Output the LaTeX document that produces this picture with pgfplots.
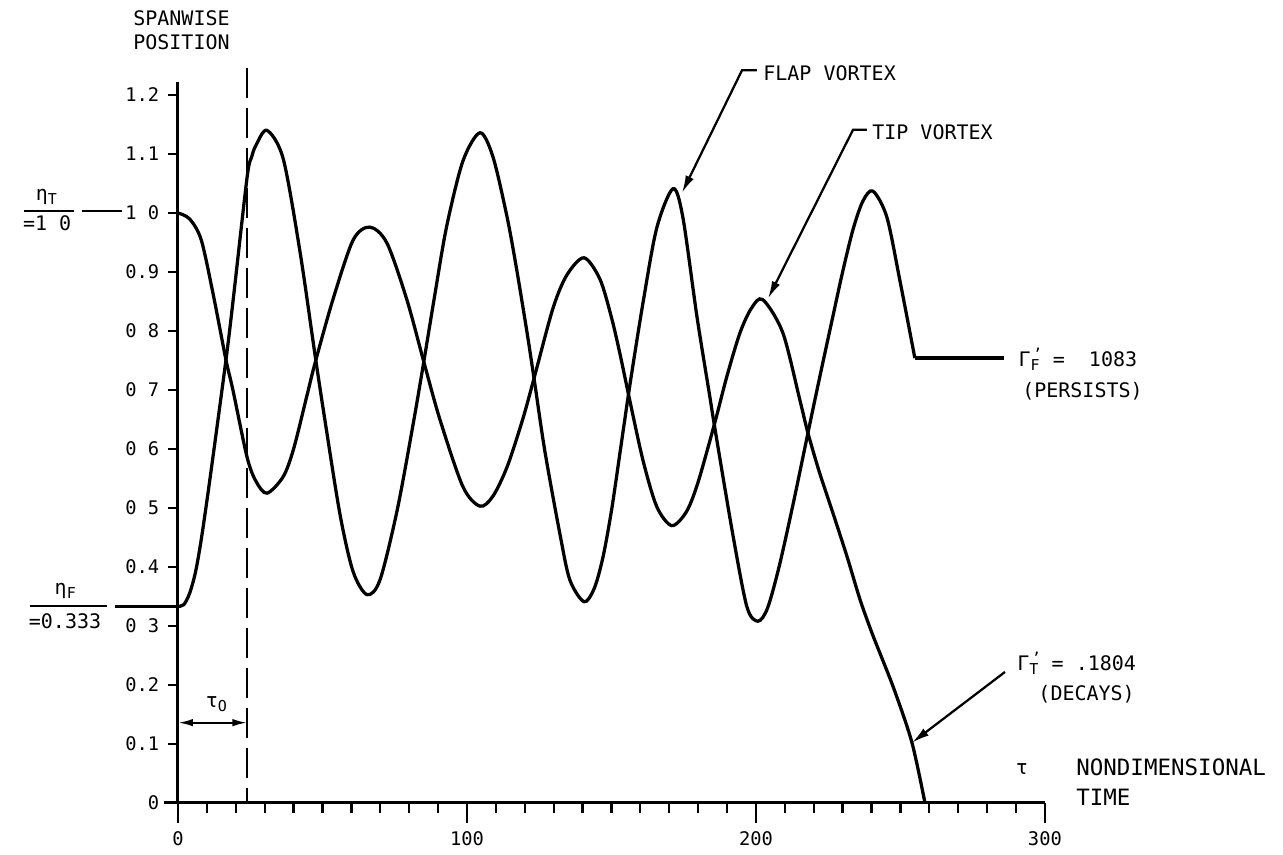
\documentclass[border=0pt]{standalone}
\usepackage{fontspec}
\setmainfont{DejaVu Sans Mono}
\usepackage{pgfplots}
\usepackage{pgfplotstable}
\pgfplotsset{compat=1.18}
\usetikzlibrary{arrows.meta}

% tip vortex, starts at eta_T = 1.0
\pgfplotstableread{
t y
0 1.000
4 0.990
8 0.955
12.1 0.864
16.6 0.751
19 0.700
23.9 0.586
27 0.545
30.8 0.525
36.4 0.553
40 0.600
44.6 0.690
47.4 0.745
53.6 0.853
60.6 0.954
66.4 0.976
72.3 0.949
79.2 0.853
85.1 0.747
90.7 0.649
98.6 0.536
104.5 0.503
109 0.520
114 0.571
119.4 0.652
123.5 0.725
129.8 0.839
134.6 0.895
140.5 0.924
146 0.888
150 0.823
153 0.760
156.4 0.681
161 0.579
165.7 0.502
170.9 0.470
176 0.494
180 0.544
185.8 0.645
190 0.724
194.5 0.797
198.5 0.839
202.4 0.853
209.3 0.797
215.2 0.683
218 0.627
222 0.560
226.6 0.492
231.5 0.418
236 0.345
240 0.290
242.9 0.254
248 0.190
254 0.102
258.5 0
}\tipvortex

% flap vortex, starts at eta_F = 0.333
\pgfplotstableread{
t y
0 0.333
2 0.336
4 0.355
6 0.390
8 0.445
11 0.547
16.6 0.751
19.1 0.853
23.9 1.060
25.5 1.095
27 1.115
30.8 1.140
36.4 1.092
42.2 0.935
47.4 0.760
50.9 0.647
56.1 0.488
60.6 0.392
65.4 0.353
69.9 0.378
75.8 0.495
81.3 0.640
85.1 0.749
89 0.865
93 0.978
98.6 1.088
104.5 1.136
109 1.095
113.8 0.995
117 0.910
120.8 0.797
123.5 0.710
127 0.595
132.2 0.455
135.6 0.378
140.5 0.341
144 0.363
147 0.415
150 0.495
153 0.595
156.4 0.709
161 0.850
165.7 0.975
171.3 1.041
174.7 0.993
179.6 0.824
184 0.690
185.8 0.635
192 0.455
196.9 0.332
200.7 0.308
204 0.330
208 0.400
212.8 0.505
218 0.627
222 0.720
226.6 0.824
230 0.900
233.6 0.972
237 1.020
240.5 1.037
245.3 0.993
249.8 0.886
255 0.754
}\flapvortex

\pgfplotstableread{
t y
255 0.754
286 0.754
}\flaptail

\begin{document}
\begin{tikzpicture}[font=\fontsize{8}{9.6}\selectfont]
\begin{axis}[x=1.156pt, y=236pt, xmin=0, xmax=300, ymin=0, ymax=1.222,
  axis x line*=bottom, axis y line*=left,
  axis line style={line width=1.2pt},
  clip=false, tick align=outside,
  major tick length=8pt, minor tick length=4pt,
  tick style={black, line width=0.9pt},
  xtick={0,100,200,300}, xticklabels={0,100,200,300}, minor x tick num=9,
  ytick=\empty,
  extra y ticks={0,0.1,0.2,0.3,0.4,0.5,0.6,0.7,0.8,0.9,1.0,1.1,1.2},
  extra y tick labels={0,0.1,0.2,0 3,0.4,0 5,0 6,0 7,0 8,0.9,1 0,1.1,1.2},
  extra y tick style={major tick length=4pt},
  tick label style={font=\fontsize{7.5}{9}\selectfont}]

\addplot[black, line width=1.3pt, smooth, tension=0.5] table {\tipvortex};
\addplot[black, line width=1.3pt, smooth, tension=0.5] table {\flapvortex};
\addplot[black, line width=1.3pt] table {\flaptail};

\draw[line width=1.2pt] (axis cs:-5,0) -- (axis cs:0,0);
\draw[line width=0.8pt, dash pattern=on 12pt off 4pt] (axis cs:24,1.246) -- (axis cs:24,0);
\draw[line width=0.9pt, {Latex[length=6pt,width=3pt]}-{Latex[length=6pt,width=3pt]}] (axis cs:0,0.136) -- (axis cs:24,0.136);
\node at (axis cs:13.5,0.168) {τ\textsubscript{O}};

% left labels
\node[align=center] at (axis cs:1.2,1.31) {SPANWISE\\POSITION};
\node at (axis cs:-45.3,1.027) {η\textsubscript{T}};
\draw[line width=0.9pt] (axis cs:-53.3,1.003) -- (axis cs:-36,1.003);
\node at (axis cs:-45.3,0.982) {=1 0};
\draw[line width=0.9pt] (axis cs:-33.2,1.003) -- (axis cs:-19.4,1.003);
\node at (axis cs:-38.8,0.360) {η\textsubscript{F}};
\draw[line width=0.9pt] (axis cs:-51.2,0.334) -- (axis cs:-24.6,0.334);
\node at (axis cs:-39.1,0.308) {=0.333};
\draw[line width=0.9pt] (axis cs:-21.8,0.333) -- (axis cs:0,0.333);

% vortex labels
\draw[line width=0.9pt, -{Latex[length=7pt,width=3.5pt]}] (axis cs:200.3,1.242) -- (axis cs:195.2,1.242) -- (axis cs:174.4,1.034);
\node[anchor=west, inner sep=0pt] at (axis cs:202.4,1.237) {FLAP VORTEX};
\draw[line width=0.9pt, -{Latex[length=7pt,width=3.5pt]}] (axis cs:238.4,1.141) -- (axis cs:233.6,1.141) -- (axis cs:204.2,0.855);
\node[anchor=west, inner sep=0pt] at (axis cs:240.1,1.137) {TIP VORTEX};

\node[anchor=west, inner sep=0pt] at (axis cs:290.7,0.752) {Γ\rlap{\textsuperscript{\,'}}\textsubscript{F} = \ 1083};
\node[anchor=west, inner sep=0pt] at (axis cs:292,0.698) {(PERSISTS)};
\draw[line width=0.9pt, -{Latex[length=7pt,width=3.5pt]}] (axis cs:286.2,0.222) -- (axis cs:254,0.102);
\node[anchor=west, inner sep=0pt] at (axis cs:290.3,0.236) {Γ\rlap{\textsuperscript{\,'}}\textsubscript{T} = .1804};
\node[anchor=west, inner sep=0pt] at (axis cs:297.6,0.184) {(DECAYS)};

\node at (axis cs:292,0.058) {τ};
\node[anchor=west, inner sep=0pt, align=left, font=\fontsize{9}{12}\selectfont] at (axis cs:310.7,0.035) {NONDIMENSIONAL\\TIME};

\coordinate (bl) at (axis cs:-61.6,-0.088);
\coordinate (tr) at (axis cs:382.4,1.361);
\end{axis}
\pgfresetboundingbox
\path[use as bounding box] (bl) rectangle (tr);
\end{tikzpicture}
\end{document}
